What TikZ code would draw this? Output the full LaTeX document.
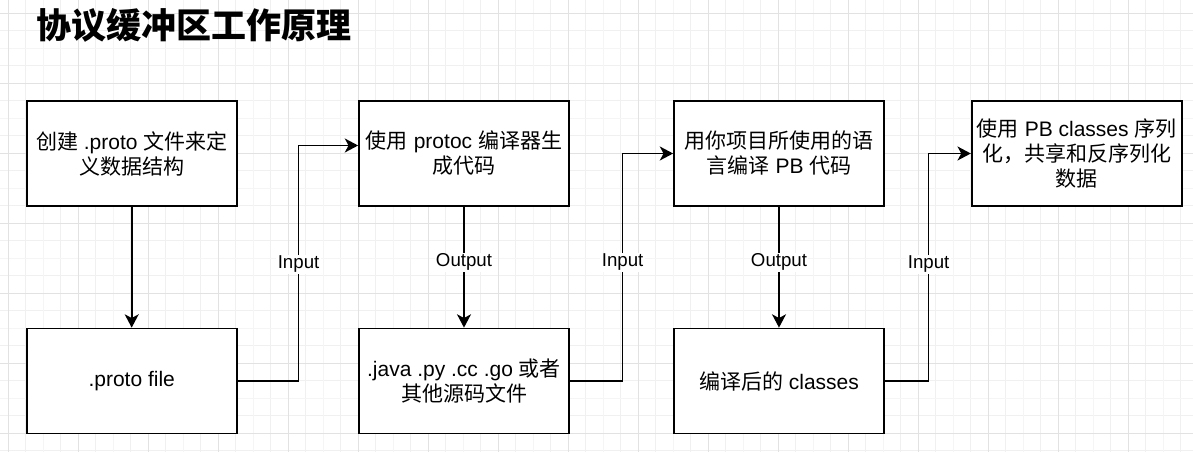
\documentclass[tikz,border=0pt]{standalone}
\usepackage{fontspec}
\setmainfont{Liberation Sans}
\newfontfamily\cjk{Noto Sans CJK SC}
\usetikzlibrary{arrows.meta,calc}
\newcommand\zh[1]{{\cjk #1}}
\definecolor{gridmaj}{RGB}{226,226,226}
\definecolor{gridmin}{RGB}{240,240,240}
\definecolor{gridmid}{RGB}{245,245,245}
\begin{document}
\begin{tikzpicture}[x=0.75pt,y=-0.75pt,
  box/.style={draw=black, line width=1.3pt, fill=white, minimum width=157.5pt, minimum height=78.75pt, align=center, inner sep=2pt, font=\fontsize{15.75}{18.75}\selectfont},
  conn/.style={line width=1.3pt, -{Stealth[length=10pt,width=10.5pt,inset=2.8pt]}},
  lbl/.style={fill=white, inner sep=1pt, yshift=-1.8pt, font=\fontsize{14}{16}\selectfont},
  gmaj/.style={draw=gridmaj, line width=0.75pt},
  gmin/.style={draw=gridmin, line width=0.75pt},
  gmid/.style={draw=gridmid, line width=0.75pt}]
\useasboundingbox (0,0) rectangle (1193,452);
\fill[white] (0,0) rectangle (1193,452);
% grid
\foreach \i in {1,3,...,67}{\draw[gmin] ({8.33+17.5*\i},0) -- ({8.33+17.5*\i},452);}
\foreach \j in {1,3,...,25}{\draw[gmin] (0,{13.33+17.5*\j}) -- (1193,{13.33+17.5*\j});}
\foreach \i in {2,6,...,66}{\draw[gmid] ({8.33+17.5*\i},0) -- ({8.33+17.5*\i},452);}
\foreach \j in {2,6,...,22}{\draw[gmid] (0,{13.33+17.5*\j}) -- (1193,{13.33+17.5*\j});}
\foreach \i in {0,4,...,64}{\draw[gmaj] ({8.33+17.5*\i},0) -- ({8.33+17.5*\i},452);}
\foreach \j in {0,4,...,24}{\draw[gmaj] (0,{13.33+17.5*\j}) -- (1193,{13.33+17.5*\j});}
% title
\node[anchor=west, inner sep=0pt, font=\fontsize{26.25}{30}\selectfont\cjk\bfseries] (title) at (36,25) {协议缓冲区工作原理};
% boxes
\node[box] (b1) at (131.7,153.5) {\zh{创建} .proto \zh{文件来定}\\\zh{义数据结构}};
\node[box] (b2) at (131.7,381) {.proto file};
\node[box] (b3) at (464,153.5) {\zh{使用} protoc \zh{编译器生}\\\zh{成代码}};
\node[box] (b4) at (464,381) {.java .py .cc .go \zh{或者}\\\zh{其他源码文件}};
\node[box] (b5) at (779,153.5) {\zh{用你项目所使用的语}\\\zh{言编译} PB \zh{代码}};
\node[box] (b6) at (779,381) {\zh{编译后的} classes};
\node[box] (b7) at (1076.7,153.5) {\zh{使用} PB classes \zh{序列}\\\zh{化，共享和反序列化}\\\zh{数据}};
% connectors
\draw[conn] (b1) -- (b2);
\draw[conn] (b3) -- node[lbl,pos=0.44]{Output} (b4);
\draw[conn] (b5) -- node[lbl,pos=0.44]{Output} (b6);
\draw[conn] (b2.east) -- ++(61,0) |- node[lbl,pos=0.253]{Input} ([yshift=6pt]b3.west);
\draw[conn] (b4.east) -- ++(52.7,0) |- node[lbl,pos=0.266]{Input} (b5.west);
\draw[conn] (b6.east) -- ++(43.7,0) |- node[lbl,pos=0.262]{Input} (b7.west);
\end{tikzpicture}
\end{document}
